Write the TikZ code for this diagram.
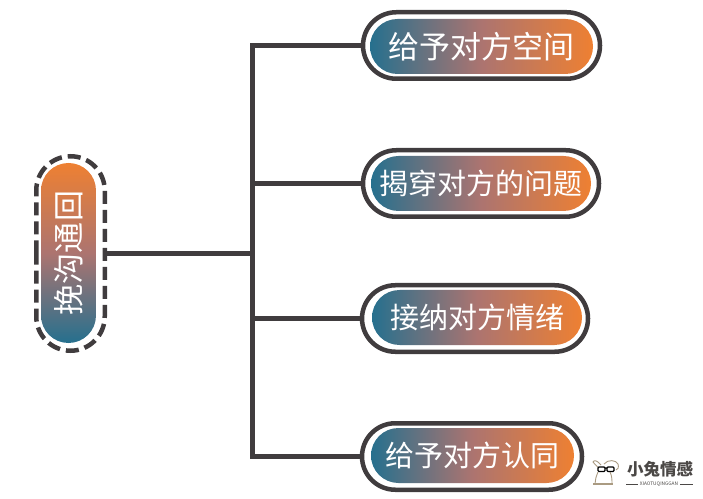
\documentclass[tikz,border=0pt]{standalone}
\usepackage{fontspec}
\setmainfont{Noto Sans CJK SC}
\usetikzlibrary{positioning, shapes.misc}
\definecolor{ringgray}{RGB}{64,60,62}
\definecolor{gradteal}{RGB}{38,112,142}
\definecolor{gradmid}{RGB}{172,116,112}
\definecolor{gradorange}{RGB}{238,128,50}
\definecolor{logogray}{RGB}{75,72,70}
\definecolor{logotan}{RGB}{170,155,130}
\begin{document}
\begin{tikzpicture}[
  x=1pt, y=1pt,
  grad/.style = {
    rounded rectangle, text=white, inner sep=0pt, minimum height=55pt,
    font=\fontsize{29}{29}\selectfont,
    left color=gradteal, right color=gradorange, middle color=gradmid
  },
  gradv/.style = {
    rounded rectangle, text=white, inner sep=0pt, rotate=90,
    minimum height=55pt, minimum width=180pt,
    font=\fontsize{31}{31}\selectfont,
    bottom color=gradteal, top color=gradorange, middle color=gradmid
  },
  ring/.style = {
    rounded rectangle, draw=ringgray, line width=4.5pt, inner sep=0pt,
    outer sep=0pt, minimum height=66.5pt
  },
  link/.style = {draw=ringgray, line width=5pt}
]
\useasboundingbox (0,0) rectangle (703,498);
\node[gradv] (root) at (68.5,245) {挽沟通回};
\node[ring, dash pattern=on 13pt off 6pt, rotate=90, minimum width=194.5pt, minimum height=68.5pt] (rootring) at (70.5,244.5) {};
\node[grad, minimum width=223pt, font=\fontsize{31}{31}\selectfont] (space) at (481.5,451.5) {给予对方空间};
\node[grad, minimum width=220pt] (expose) at (481,314.5) {揭穿对方的问题};
\node[grad, minimum width=210pt] (accept) at (477,180.5) {接纳对方情绪};
\node[grad, minimum width=203pt] (agree) at (472.5,42.5) {给予对方认同};
\node[ring, minimum width=237pt] (spacering) at (481.5,452.5) {};
\node[ring, minimum width=236pt] (exposering) at (481,314.5) {};
\node[ring, minimum width=226pt] (acceptring) at (475,179.5) {};
\node[ring, minimum width=220pt] (agreering) at (472,41.5) {};
\coordinate (fork) at (252,244.5);
\draw[link] (rootring.south) -- (fork);
\draw[link, line cap=rect] (fork |- spacering.west) -- (fork |- agreering.west);
\draw[link] (fork |- spacering.west) -- (spacering.west);
\draw[link] (fork |- exposering.west) -- (exposering.west);
\draw[link] (fork |- acceptring.west) -- (acceptring.west);
\draw[link] (fork |- agreering.west) -- (agreering.west);
% logo
\node[text=logogray, font=\fontsize{16.5}{16.5}\selectfont\bfseries, inner sep=0pt] (logotext) at (660,28.5) {小兔情感};
\node[text=logogray, font=\fontsize{4.8}{5}\selectfont, inner sep=0pt] (logosub) at (659,14) {XIAOTUQINGGAN};
\coordinate (subleft) at (626,14);
\coordinate (subright) at (693,14);
\draw[logogray, line width=1pt] (subleft) -- ([xshift=-2pt]logosub.west);
\draw[logogray, line width=1pt] ([xshift=2pt]logosub.east) -- (subright);
\draw[logotan, line width=0.9pt] (598,26) .. controls (596,21) and (595,18) .. (595,14);
\draw[logotan, line width=0.9pt] (610,26) .. controls (612,22) and (612,18) .. (612,14);
\draw[logotan, line width=1.4pt] (593,14) -- (613,14);
\draw[logotan, line width=0.9pt] (601,33) .. controls (597,38) and (594,38) .. (593,36) .. controls (594,34) and (597,32) .. (599,30);
\draw[logotan, line width=0.9pt] (604,34) .. controls (608,39) and (616,38) .. (618,34) .. controls (619,31) and (618,28) .. (616,28);
\draw[black, line width=1.1pt, rounded corners=1pt] (598,31) rectangle (605,26.5) (607,31) rectangle (614,26.5) (605,30) -- (607,30);
\end{tikzpicture}
\end{document}
